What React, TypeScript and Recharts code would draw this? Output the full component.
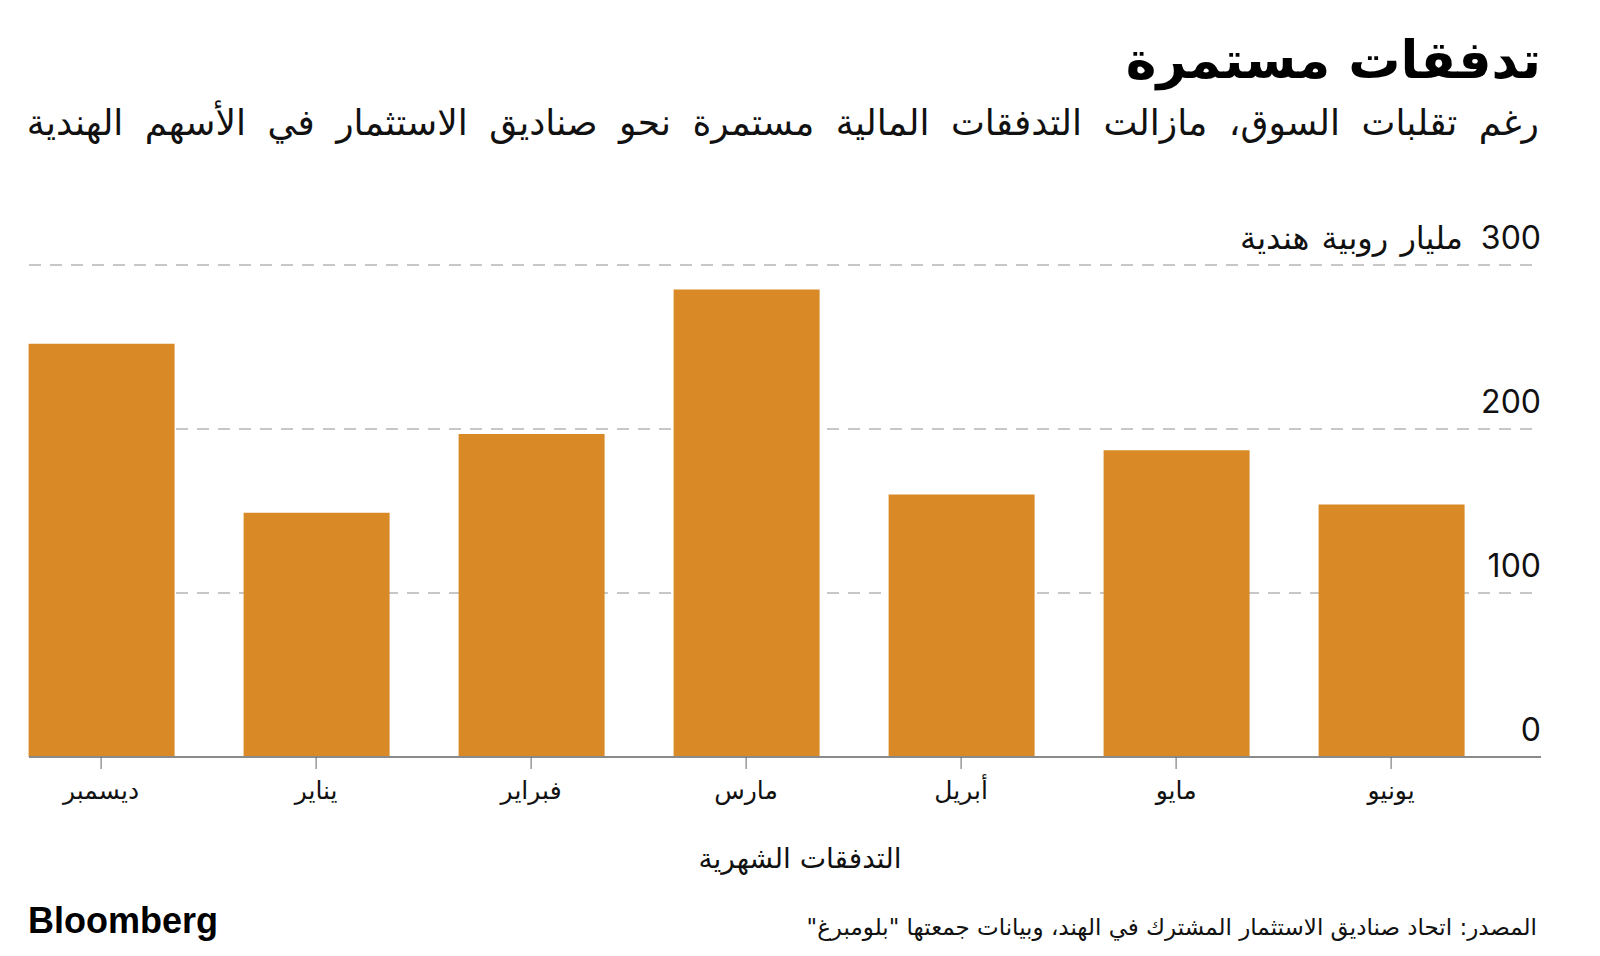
import React from 'react';
import { BarChart, Bar, XAxis, YAxis, CartesianGrid } from 'recharts';

const months = ['ديسمبر', 'يناير', 'فبراير', 'مارس', 'أبريل', 'مايو', 'يونيو'];
const inflows = [252, 149, 197, 285, 160, 187, 154];
const yTicks = [0, 100, 200, 300];

const title = 'تدفقات مستمرة';
const subtitle = 'رغم تقلبات السوق، مازالت التدفقات المالية مستمرة نحو صناديق الاستثمار في الأسهم الهندية';
const unitLabel = 'مليار روبية هندية';
const xTitle = 'التدفقات الشهرية';
const source = 'المصدر: اتحاد صناديق الاستثمار المشترك في الهند، وبيانات جمعتها "بلومبرغ"';

const data = months.map((m, i) => ({ month: m, value: inflows[i] }));

const ARABIC = '"DejaVu Sans", sans-serif';
const LATIN = 'Inter, "Liberation Sans", sans-serif';
const PLOT_RIGHT = 1541;

// y labels sit inside the plot, right-aligned, just above each gridline
function YTick(props: any) {
  const { y, payload } = props;
  return (
    <g>
      <text x={PLOT_RIGHT} y={y - 16} textAnchor="end" fontFamily={LATIN} fontSize={32} fill="#111">
        {payload.value}
      </text>
      {payload.value === 300 && (
        <text x={PLOT_RIGHT - 78} y={y - 16} textAnchor="end" fontFamily={ARABIC} fontSize={32} wordSpacing={2} fill="#111">
          {unitLabel}
        </text>
      )}
    </g>
  );
}

function XTick(props: any) {
  const { x, y, payload } = props;
  return (
    <text x={x} y={y + 28} textAnchor="middle" fontFamily={ARABIC} fontSize={25} fill="#111">
      {payload.value}
    </text>
  );
}

export default function App() {
  return (
    <div style={{ position: 'absolute', left: 0, top: 0, width: 1600, height: 956, background: '#fff', overflow: 'hidden' }}>
      <div dir="rtl" style={{ position: 'absolute', right: 59, top: 30, fontFamily: ARABIC, fontWeight: 700, fontSize: 52, color: '#000', whiteSpace: 'nowrap' }}>
        {title}
      </div>
      <div dir="rtl" style={{ position: 'absolute', right: 61, top: 102, fontFamily: ARABIC, fontSize: 36, wordSpacing: 10, color: '#111', whiteSpace: 'nowrap' }}>
        {subtitle}
      </div>

      <div style={{ position: 'absolute', left: 0, top: 0 }}>
        <BarChart width={1600} height={830} data={data} margin={{ top: 265, right: 0, left: 29, bottom: 13 }}>
          <CartesianGrid vertical={false} stroke="#b5b5b5" strokeDasharray="12 9" strokeWidth={1.5} />
          <XAxis
            dataKey="month"
            height={60}
            padding={{ left: -35.4, right: 42.4 }}
            axisLine={{ stroke: '#8a8a8a', strokeWidth: 2 }}
            tickLine={{ stroke: '#666', strokeWidth: 1 }}
            tickSize={12}
            tick={<XTick />}
            interval={0}
          />
          <YAxis
            orientation="right"
            width={59}
            domain={[0, 300]}
            ticks={yTicks}
            interval={0}
            axisLine={false}
            tickLine={false}
            tickMargin={0}
            tick={<YTick />}
          />
          <Bar dataKey="value" fill="#D98A26" barSize={146} isAnimationActive={false} />
        </BarChart>
      </div>

      <div style={{ position: 'absolute', left: 800, top: 842, transform: 'translateX(-50%)', fontFamily: ARABIC, fontSize: 28, color: '#111', whiteSpace: 'nowrap' }} dir="rtl">
        {xTitle}
      </div>

      <div style={{ position: 'absolute', left: 28, top: 900, fontFamily: '"Liberation Sans", Arial, sans-serif', fontWeight: 700, fontSize: 36, letterSpacing: 0, color: '#000' }}>
        Bloomberg
      </div>
      <div dir="rtl" style={{ position: 'absolute', right: 63, top: 914, fontFamily: ARABIC, fontSize: 23, color: '#111', whiteSpace: 'nowrap' }}>
        {source}
      </div>
    </div>
  );
}
